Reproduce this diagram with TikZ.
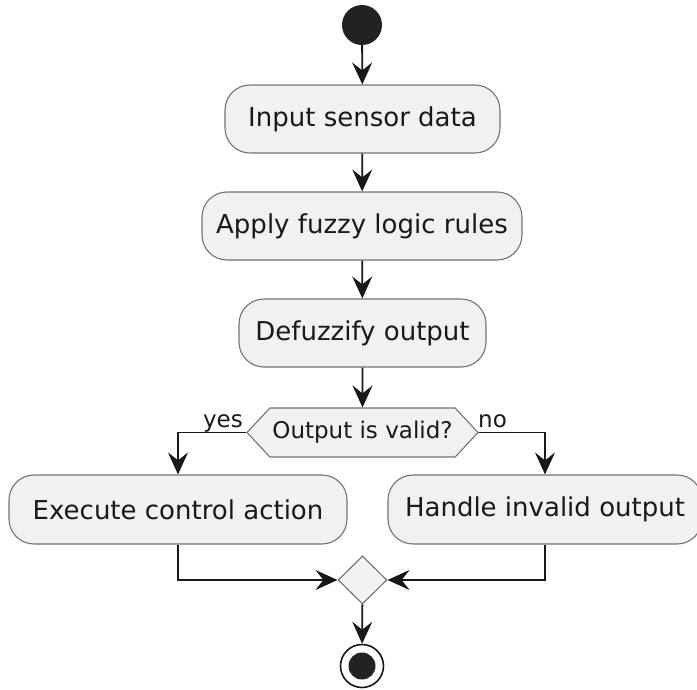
\documentclass[tikz,border=0pt]{standalone}
\usepackage{fontspec}
\setmainfont{DejaVu Sans}
\usepackage{tikz}
\usetikzlibrary{positioning, shapes.geometric, shapes.symbols, arrows.meta}
\definecolor{actfill}{HTML}{F1F1F1}
\definecolor{actline}{HTML}{181818}
\definecolor{dotfill}{HTML}{222222}
\tikzset{act/.style={rectangle, rounded corners=25pt, draw=black!55, line width=1.1pt, fill=actfill, inner sep=0pt, minimum height=68pt, text=black!90, font=\fontsize{26}{30}\selectfont},
    decide/.style={signal, signal to=west and east, signal pointer angle=94, draw=black!55, line width=1.1pt, fill=actfill, inner sep=0pt, minimum width=231pt, minimum height=49pt, text=black!90, font=\fontsize{23}{27}\selectfont},
    merge/.style={diamond, aspect=1, draw=black!55, line width=1.1pt, fill=actfill, inner sep=0pt, minimum width=49pt, minimum height=48pt},
    flow/.style={draw=actline, line width=1.8pt, -{Stealth[length=22pt, width=20pt, inset=8pt]}},
    lbl/.style={inner sep=0pt, anchor=base, text=black!90, font=\fontsize{23}{27}\selectfont}}

\begin{document}
\begin{tikzpicture}[x=1pt, y=-1pt]
                      \useasboundingbox (0,0) rectangle (697,689);
                      \node[circle, fill=dotfill, minimum size=40pt, inner sep=0pt] (start) at (362,25) {};
                      \node[act, minimum width=275pt] (inp) at (362.5,119) {Input sensor data};
                      \node[act, minimum width=320pt] (fuzzy) at (362,226) {Apply fuzzy logic rules};
                      \node[act, minimum width=247pt] (defuzz) at (362.5,333) {Defuzzify output};
                      \node[decide] (valid) at (362.5,432.5) {Output is valid?};
                      \node[act, minimum width=338pt, minimum height=69pt] (exec) at (178,509.5) {Execute control action};
                      \node[act, minimum width=314pt, minimum height=69pt] (handle) at (545,509.5) {Handle invalid output};
                      \node[merge] (join) at (362.5,580) {};
                      \node[circle, draw=actline, line width=1.6pt, fill=white, minimum size=43pt, inner sep=0pt] (stop) at (362,666) {};
                      \node[circle, fill=dotfill, minimum size=27pt, inner sep=0pt] (stopdot) at (stop.center) {};
                      
                      \node[lbl] (yes) at (223,427) {yes};
                      \node[lbl] (no) at (492.5,427) {no};
                      
                      \draw[flow] (start) -- (inp);
                      \draw[flow] (inp) -- (fuzzy);
                      \draw[flow] (fuzzy) -- (defuzz);
                      \draw[flow] (defuzz) -- (valid);
                      \draw[flow] (valid.west) -| (exec.north);
                      \draw[flow] (valid.east) -| (handle.north);
                      \draw[flow] (exec.south) |- (join.west);
                      \draw[flow] (handle.south) |- (join.east);
                      \draw[flow] (join) -- (stop);
             \end{tikzpicture}
\end{document}
